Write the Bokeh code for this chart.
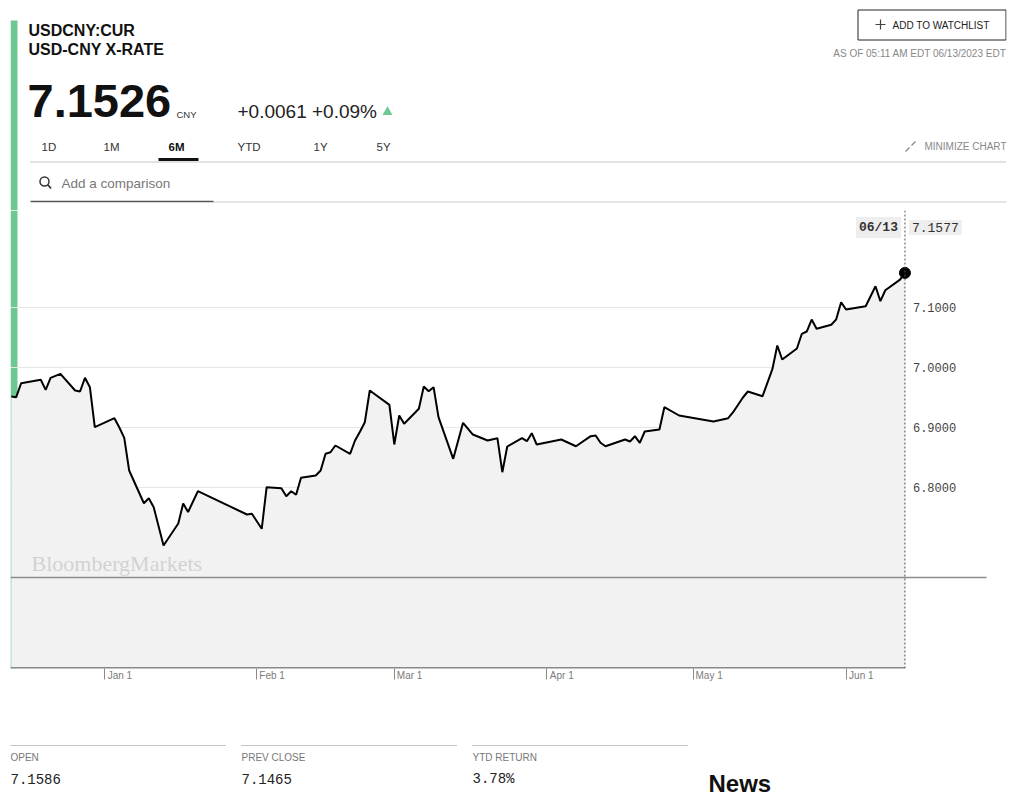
import pandas as pd
from bokeh.plotting import figure
from bokeh.models import (Range1d, FixedTicker, Span, Label, BoxAnnotation,
                          ColumnDataSource)
from bokeh.layouts import column
from bokeh.embed import file_html
from bokeh.resources import INLINE
from bokeh.core.properties import value

# ---------------- data ----------------
dates = [
    "2022-12-13", "2022-12-14", "2022-12-15", "2022-12-19", "2022-12-20", "2022-12-21",
    "2022-12-23", "2022-12-26", "2022-12-27", "2022-12-28", "2022-12-29", "2022-12-30",
    "2023-01-03", "2023-01-04", "2023-01-05", "2023-01-06", "2023-01-09", "2023-01-10",
    "2023-01-11", "2023-01-13", "2023-01-16", "2023-01-17", "2023-01-18", "2023-01-20",
    "2023-01-30", "2023-01-31", "2023-02-02", "2023-02-03", "2023-02-06", "2023-02-07",
    "2023-02-08", "2023-02-09", "2023-02-10", "2023-02-13", "2023-02-14", "2023-02-15",
    "2023-02-16", "2023-02-17", "2023-02-20", "2023-02-21", "2023-02-22", "2023-02-23",
    "2023-02-24", "2023-02-28", "2023-03-01", "2023-03-02", "2023-03-03", "2023-03-06",
    "2023-03-07", "2023-03-08", "2023-03-09", "2023-03-10", "2023-03-13", "2023-03-15",
    "2023-03-17", "2023-03-20", "2023-03-22", "2023-03-23", "2023-03-24", "2023-03-27",
    "2023-03-28", "2023-03-29", "2023-03-30", "2023-04-04", "2023-04-07", "2023-04-10",
    "2023-04-11", "2023-04-12", "2023-04-13", "2023-04-17", "2023-04-18", "2023-04-19",
    "2023-04-20", "2023-04-21", "2023-04-24", "2023-04-25", "2023-04-28", "2023-05-05",
    "2023-05-08", "2023-05-09", "2023-05-11", "2023-05-12", "2023-05-15", "2023-05-17",
    "2023-05-18", "2023-05-19", "2023-05-22", "2023-05-23", "2023-05-24", "2023-05-25",
    "2023-05-26", "2023-05-29", "2023-05-30", "2023-05-31", "2023-06-01", "2023-06-05",
    "2023-06-07", "2023-06-08", "2023-06-09", "2023-06-12", "2023-06-13",
]
rates = [
    6.9517, 6.9505, 6.9738, 6.9795, 6.9628, 6.9828,
    6.9895, 6.9617, 6.9600, 6.9828, 6.9672, 6.9005,
    6.9155, 6.9000, 6.8828, 6.8283, 6.7738, 6.7820,
    6.7670, 6.7033, 6.7400, 6.7733, 6.7592, 6.7938,
    6.7550, 6.7562, 6.7312, 6.8005, 6.7988, 6.7855,
    6.7938, 6.7878, 6.8162, 6.8200, 6.8283, 6.8562,
    6.8588, 6.8700, 6.8562, 6.8783, 6.8930, 6.9088,
    6.9617, 6.9378, 6.8717, 6.9200, 6.9062, 6.9312,
    6.9683, 6.9605, 6.9672, 6.9172, 6.8478, 6.9078,
    6.8883, 6.8783, 6.8822, 6.8255, 6.8683, 6.8822,
    6.8772, 6.8905, 6.8717, 6.8800, 6.8688, 6.8855,
    6.8867, 6.8745, 6.8688, 6.8800, 6.8767, 6.8855,
    6.8745, 6.8933, 6.8967, 6.9338, 6.9200, 6.9100,
    6.9155, 6.9255, 6.9500, 6.9600, 6.9522, 6.9972,
    7.0367, 7.0133, 7.0317, 7.0562, 7.0600, 7.0800,
    7.0645, 7.0713, 7.0803, 7.1088, 7.0967, 7.1022,
    7.1355, 7.1105, 7.1288, 7.1465, 7.1577,
]
y_ticks = [6.8, 6.9, 7.0, 7.1]
x_tick_dates = ["2023-01-01", "2023-02-01", "2023-03-01", "2023-04-01", "2023-05-01", "2023-06-01"]
x_tick_labels = ["Jan 1", "Feb 1", "Mar 1", "Apr 1", "May 1", "Jun 1"]
reference_level = 6.65
tabs = ["1D", "1M", "6M", "YTD", "1Y", "5Y"]
stat_names = ["OPEN", "PREV CLOSE", "YTD RETURN"]
stat_values = ["7.1586", "7.1465", "3.78%"]

GREEN = "#6dc892"
W = 1016
SANS = "Liberation Sans"
MONO = "Liberation Mono"
BORDER = dict(min_border_left=10, min_border_right=10)


def txt(p, x, y, s, size, color="#222222", font=SANS, style="normal", align="left"):
    p.text(x=[x], y=[y], text=[s], text_font=value(font),
           text_font_size=f"{size}px", text_font_style=style,
           text_color=color, text_align=align, text_baseline="middle")


def deco_fig(height, y_top, y_bottom):
    p = figure(width=W, height=height, x_range=Range1d(10, 1006),
               y_range=Range1d(y_bottom, y_top), output_backend="svg",
               toolbar_location=None, min_border_top=0, min_border_bottom=0,
               x_axis_type=None, y_axis_type=None, outline_line_color=None, **BORDER)
    p.grid.visible = False
    return p


# ---------------- header (page pixels 0..210) ----------------
hdr = deco_fig(210, 0, 210)
hdr.quad(left=10, right=17, top=20, bottom=210, fill_color=GREEN, line_color=None)
txt(hdr, 28, 29.5, "USDCNY:CUR", 16, "#111111", style="bold")
txt(hdr, 28, 48.5, "USD-CNY X-RATE", 16, "#111111", style="bold")
txt(hdr, 27, 100.5, "7.1526", 47, "#111111", style="bold")
txt(hdr, 176, 113.5, "CNY", 9.5, "#333333")
txt(hdr, 237, 110.5, "+0.0061 +0.09%", 19, "#222222")
hdr.scatter(x=[387], y=[111.5], marker="triangle", size=10, fill_color=GREEN, line_color=None)

tab_x = [41, 103, 168, 237, 313, 376]
for t, x in zip(tabs, tab_x):
    txt(hdr, x, 146.5, t, 11.5, "#111111" if t == "6M" else "#333333",
        style="bold" if t == "6M" else "normal")
hdr.quad(left=158, right=198, top=157.5, bottom=160.5, fill_color="#111111", line_color=None)
hdr.segment(x0=[30], y0=[161.5], x1=[1006], y1=[161.5], line_color="#8a8a8a",
            line_width=1, line_dash="1 1")
txt(hdr, 1006, 146, "MINIMIZE CHART", 10, "#888888", align="right")
hdr.segment(x0=[905, 911], y0=[151, 145], x1=[909, 915], y1=[147, 141],
            line_color="#888888", line_width=1.2)

hdr.scatter(x=[44], y=[181], marker="circle", size=9, fill_color=None,
            line_color="#333333", line_width=1.5)
hdr.segment(x0=[47.5], y0=[184.5], x1=[50.5], y1=[188], line_color="#333333", line_width=1.8)
txt(hdr, 61, 182.5, "Add a comparison", 13.5, "#777777")
hdr.segment(x0=[30], y0=[201], x1=[213], y1=[201], line_color="#555555", line_width=1.5)
hdr.segment(x0=[213], y0=[201.5], x1=[1006], y1=[201.5], line_color="#9a9a9a",
            line_width=1, line_dash="1 1")

hdr.quad(left=857.5, right=1005.5, top=9.5, bottom=39.5, fill_color=None,
         line_color="#222222", line_width=1)
hdr.segment(x0=[875, 880], y0=[24, 19], x1=[885, 880], y1=[24, 29],
            line_color="#444444", line_width=1.2)
txt(hdr, 892, 24.5, "ADD TO WATCHLIST", 10, "#222222")
txt(hdr, 1006, 52.5, "AS OF 05:11 AM EDT 06/13/2023 EDT", 10, "#888888", align="right")

# ---------------- chart (page pixels 210..700, frame 210..668) ----------------
src = ColumnDataSource(data=dict(date=pd.to_datetime(dates), rate=rates))
x_start = pd.Timestamp("2022-12-12 20:00")
x_end = pd.Timestamp("2023-07-03 16:20")
y_lo, y_hi = 6.4983, 7.2617
last_date = pd.Timestamp(dates[-1])
last_ms = last_date.value / 1e6

chart = figure(width=W, height=490, x_axis_type="datetime",
               x_range=Range1d(x_start, x_end), y_range=Range1d(y_lo, y_hi),
               y_axis_location=None, output_backend="svg", toolbar_location=None,
               min_border_top=0, min_border_bottom=32, outline_line_color=None, **BORDER)
chart.grid.visible = False

chart.add_layout(BoxAnnotation(left=0, right=7, left_units="screen", right_units="screen",
                               fill_color=GREEN, fill_alpha=1, line_color=None,
                               level="underlay"))
# horizontal grid lines, ending at the last quote
chart.segment(x0=[x_start] * len(y_ticks), y0=y_ticks, x1=[last_date] * len(y_ticks),
              y1=y_ticks, line_color="#e6e6e6", line_width=1)
chart.varea(x="date", y1=y_lo, y2="rate", source=src, fill_color="#f2f2f2")
chart.line(x="date", y="rate", source=src, line_color="#000000", line_width=2)
chart.segment(x0=[x_start], y0=[y_lo], x1=[last_date], y1=[y_lo],
              line_color="#8a8a8a", line_width=3)
chart.scatter(x=[last_date], y=[rates[-1]], size=11,
              fill_color="#000000", line_color="#000000")

# price labels right of the last quote
chart.text(x=[last_date] * len(y_ticks), y=y_ticks, text=[f"{t:.4f}" for t in y_ticks],
           x_offset=8, text_font=value(MONO), text_font_size="12px",
           text_color="#444444", text_align="left", text_baseline="middle")

# reference level line, running past the last quote
chart.add_layout(BoxAnnotation(left=0, right=976, left_units="screen", right_units="screen",
                               top=reference_level + 0.0013, bottom=reference_level - 0.0013,
                               fill_color="#8c8c8c", fill_alpha=1, line_color=None))

chart.add_layout(Label(x=21, y=105, x_units="screen", y_units="screen",
                       text="BloombergMarkets", text_font="Liberation Serif",
                       text_font_size="22px", text_color="#d2d2d2",
                       text_baseline="middle"))

chart.add_layout(Label(x=last_ms, y=441, y_units="screen", x_offset=-4,
                       text=last_date.strftime("%m/%d"),
                       text_align="right", text_baseline="middle",
                       text_font=MONO, text_font_style="bold", text_font_size="13px",
                       text_color="#333333", background_fill_color="#eeeeee",
                       padding=3))
chart.add_layout(Label(x=last_ms, y=441, y_units="screen", x_offset=4,
                       text=f"{rates[-1]:.4f}",
                       text_align="left", text_baseline="middle",
                       text_font=MONO, text_font_size="13px",
                       text_color="#333333", background_fill_color="#eeeeee",
                       padding=3))
chart.add_layout(Span(location=last_ms, dimension="height", line_color="#555555",
                      line_width=1, line_dash="2 2"))

# x axis
tick_ms = [pd.Timestamp(d).value // 10**6 for d in x_tick_dates]
xa = chart.xaxis[0]
xa.ticker = FixedTicker(ticks=tick_ms)
xa.major_label_overrides = {ms: "\u00a0" * 11 + lab for ms, lab in zip(tick_ms, x_tick_labels)}
xa.axis_line_color = None
xa.major_tick_line_color = "#8a8a8a"
xa.major_tick_out = 11
xa.major_tick_in = 0
xa.minor_tick_out = 0
xa.minor_tick_in = 0
xa.major_label_standoff = -10
xa.major_label_text_font = SANS
xa.major_label_text_font_size = "10px"
xa.major_label_text_color = "#7a7a7a"

# ---------------- footer (page pixels 700..800) ----------------
ftr = deco_fig(100, 700, 800)
stat_x = [10, 241, 472]
for name, val, x in zip(stat_names, stat_values, stat_x):
    ftr.segment(x0=[x], y0=[745], x1=[x + 215], y1=[745], line_color="#8a8a8a",
                line_width=1, line_dash="1 1")
    txt(ftr, x, 757, name, 10, "#777777")
    txt(ftr, x, 778, val, 14, "#222222", font=MONO)
txt(ftr, 708, 783, "News", 24, "#111111", style="bold")

layout = column(hdr, chart, ftr, spacing=0)
open("out.html", "w").write(file_html(layout, INLINE))
